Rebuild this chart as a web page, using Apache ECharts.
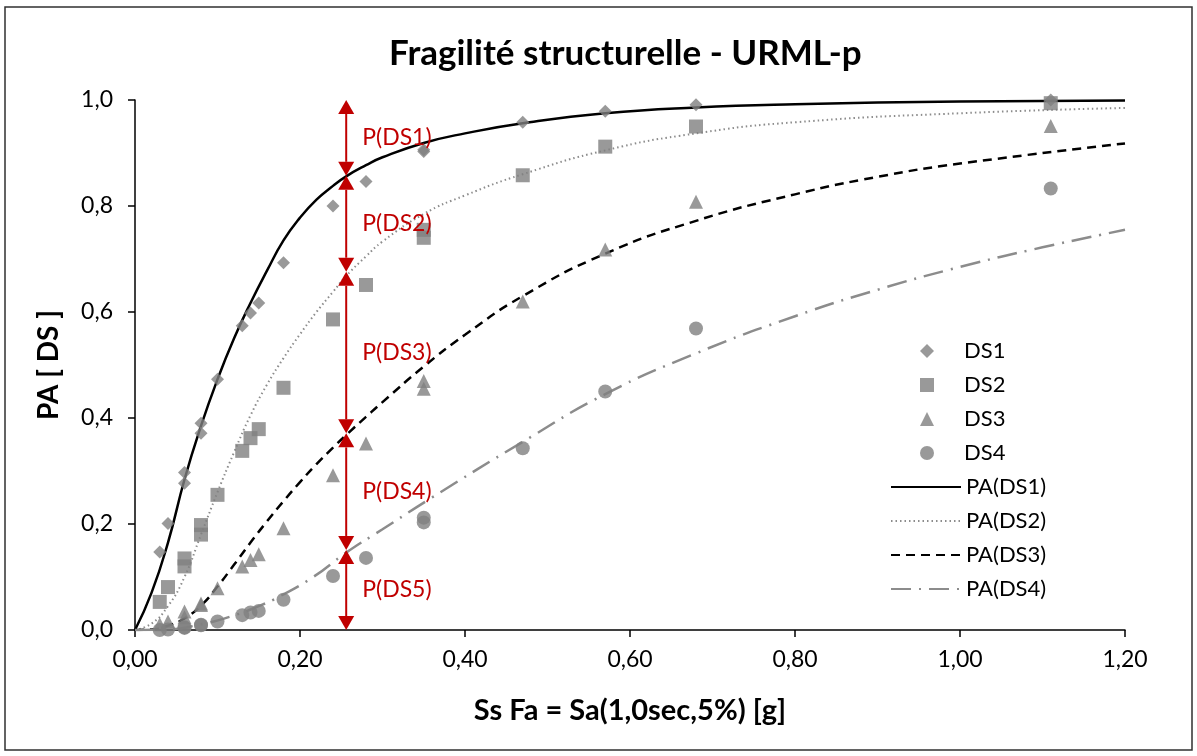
<!DOCTYPE html>
<html>
<head>
<meta charset="utf-8">
<script src="https://cdn.jsdelivr.net/npm/echarts@6/dist/echarts.min.js"></script>
<style>
  html, body { margin: 0; padding: 0; background: #fff; }
  #chart { width: 1197px; height: 756px; }
</style>
</head>
<body>
<div id="chart"></div>
<script>
// Sa values of the samples (some repeated)
const sampleSa = [0.03, 0.04, 0.06, 0.06, 0.08, 0.08, 0.10, 0.13, 0.14, 0.15, 0.18, 0.24, 0.28, 0.35, 0.35, 0.47, 0.57, 0.68, 1.11]

// observed probabilities per damage state
const ds1 = [0.147, 0.201, 0.277, 0.297, 0.371, 0.390, 0.473, 0.574, 0.598, 0.617, 0.693, 0.800, 0.846, 0.903, 0.906, 0.958, 0.979, 0.991, 1.000]
const ds2 = [0.053, 0.081, 0.120, 0.135, 0.180, 0.198, 0.255, 0.338, 0.362, 0.379, 0.457, 0.586, 0.651, 0.740, 0.755, 0.858, 0.912, 0.950, 0.994]
const ds3 = [0.011, 0.016, 0.024, 0.035, 0.047, 0.050, 0.079, 0.120, 0.132, 0.143, 0.192, 0.292, 0.352, 0.455, 0.470, 0.620, 0.718, 0.808, 0.951]
const ds4 = [0.000, 0.001, 0.004, 0.005, 0.009, 0.010, 0.016, 0.028, 0.033, 0.036, 0.057, 0.102, 0.136, 0.203, 0.212, 0.343, 0.450, 0.569, 0.833]

// fitted fragility curves
const pa1 = [[0, 0], [0.02, 0.07], [0.04, 0.165], [0.06, 0.284], [0.08, 0.385], [0.10, 0.473], [0.12, 0.55], [0.14, 0.617], [0.16, 0.678], [0.18, 0.735], [0.20, 0.778], [0.22, 0.812], [0.24, 0.838], [0.256, 0.856], [0.28, 0.877], [0.30, 0.892], [0.35, 0.919], [0.40, 0.937], [0.47, 0.956], [0.57, 0.975], [0.68, 0.986], [0.80, 0.992], [1.0, 0.997], [1.2, 0.999]]
const pa2 = [[0, 0], [0.02, 0.012], [0.04, 0.045], [0.06, 0.1], [0.08, 0.18], [0.10, 0.26], [0.12, 0.335], [0.14, 0.405], [0.16, 0.463], [0.18, 0.513], [0.20, 0.558], [0.22, 0.6], [0.24, 0.638], [0.256, 0.668], [0.28, 0.705], [0.30, 0.733], [0.35, 0.785], [0.40, 0.82], [0.47, 0.86], [0.57, 0.905], [0.68, 0.937], [0.80, 0.958], [1.0, 0.975], [1.2, 0.985]]
const pa3 = [[0, 0], [0.02, 0.001], [0.04, 0.008], [0.06, 0.022], [0.08, 0.046], [0.10, 0.082], [0.12, 0.123], [0.14, 0.165], [0.16, 0.205], [0.18, 0.243], [0.20, 0.279], [0.22, 0.313], [0.24, 0.344], [0.256, 0.368], [0.28, 0.402], [0.30, 0.43], [0.35, 0.497], [0.40, 0.557], [0.47, 0.63], [0.57, 0.71], [0.68, 0.772], [0.80, 0.822], [0.90, 0.855], [1.0, 0.88], [1.2, 0.918]]
const pa4 = [[0, 0], [0.04, 0.001], [0.075, 0.009], [0.115, 0.025], [0.15, 0.045], [0.176, 0.064], [0.216, 0.1], [0.256, 0.146], [0.30, 0.19], [0.36, 0.25], [0.47, 0.355], [0.57, 0.445], [0.68, 0.522], [0.80, 0.592], [0.90, 0.642], [1.0, 0.685], [1.1, 0.722], [1.2, 0.755]]

// damage state bands at Sa = 0.256
const arrowSa = 0.256
const arrowLevels = [1.0, 0.857, 0.676, 0.371, 0.151, 0]
const arrowLabels = ['P(DS1)', 'P(DS2)', 'P(DS3)', 'P(DS4)', 'P(DS5)']

const RED = '#C00000'
const GREY = '#7f7f7f'
const FONT = 'Lato, "Noto Sans", sans-serif'

const pts = ys => sampleSa.map((x, i) => [x, ys[i]])
const comma = (v, d) => v.toFixed(d).replace('.', ',')

const arrowData = arrowLabels.map((t, i) => [arrowSa, arrowLevels[i], arrowLevels[i + 1]])

function renderArrow(params, api) {
  const top = api.coord([api.value(0), api.value(1)])
  const bot = api.coord([api.value(0), api.value(2)])
  const mid = api.coord([api.value(0), (api.value(1) + api.value(2)) / 2])
  const h = 14, w = 8
  return {
    type: 'group',
    children: [
      {type: 'line', shape: {x1: top[0], y1: top[1] + h, x2: bot[0], y2: bot[1] - h},
        style: {stroke: RED, lineWidth: 2}},
      {type: 'polygon', shape: {points: [[top[0], top[1]], [top[0] - w, top[1] + h], [top[0] + w, top[1] + h]]},
        style: {fill: RED}},
      {type: 'polygon', shape: {points: [[bot[0], bot[1]], [bot[0] - w, bot[1] - h], [bot[0] + w, bot[1] - h]]},
        style: {fill: RED}},
      {type: 'text', x: mid[0] + 16, y: mid[1],
        style: {text: arrowLabels[params.dataIndex], fill: RED, font: '23px ' + FONT, verticalAlign: 'middle'}}
    ]
  }
}

const scatter = (name, symbol, size, ys) => ({
  name, type: 'scatter', data: pts(ys), symbol, symbolSize: size,
  itemStyle: {color: GREY}, z: 4
})
const curve = (name, data, color, type, width) => ({
  name, type: 'line', data, symbol: 'none', smooth: 0.5,
  lineStyle: {color, type, width, cap: 'butt'}, itemStyle: {color}, z: 3
})

const legendText = {fontFamily: FONT, fontSize: 22, color: '#000'}

const myChart = echarts.init(document.getElementById('chart'))
myChart.setOption({
  animation: false,
  backgroundColor: '#fff',
  title: {
    text: 'Fragilité structurelle - URML-p',
    left: 384, top: 31,
    textStyle: {fontFamily: FONT, fontSize: 35, fontWeight: 'bold', color: '#000'}
  },
  graphic: [{
    type: 'rect', shape: {x: 5, y: 7, width: 1187, height: 743},
    style: {fill: 'none', stroke: '#303030', lineWidth: 1.5}, silent: true
  }],
  legend: [{
    // marker entries: small symbols, text aligned with the line entries
    orient: 'vertical', left: 915, top: 335,
    itemWidth: 14, itemHeight: 14, itemGap: 12,
    formatter: name => '{p|}' + name,
    textStyle: Object.assign({rich: {p: {width: 25}}}, legendText),
    data: ['DS1', 'DS2', 'DS3', 'DS4']
  }, {
    orient: 'vertical', left: 885, top: 471,
    itemWidth: 70, itemHeight: 14, itemGap: 12,
    itemStyle: {opacity: 0},
    textStyle: legendText,
    data: ['PA(DS1)', 'PA(DS2)', 'PA(DS3)', 'PA(DS4)']
  }],
  grid: {left: 135, right: 72, top: 100, bottom: 126},
  xAxis: {
    type: 'value', min: 0, max: 1.2, interval: 0.2,
    name: 'Ss Fa = Sa(1,0sec,5%) [g]', nameLocation: 'middle', nameGap: 66,
    nameTextStyle: {fontFamily: FONT, fontSize: 29, fontWeight: 'bold', color: '#000'},
    axisLine: {lineStyle: {color: '#000', width: 1.5}},
    axisTick: {show: true, length: 7, lineStyle: {color: '#000', width: 1.5}},
    axisLabel: {fontFamily: FONT, fontSize: 23, color: '#000', margin: 18, formatter: v => comma(v, 2)},
    splitLine: {show: false}
  },
  yAxis: {
    type: 'value', min: 0, max: 1, interval: 0.2,
    name: 'PA [ DS ]', nameLocation: 'middle', nameGap: 72,
    nameTextStyle: {fontFamily: FONT, fontSize: 28, fontWeight: 'bold', color: '#000'},
    axisLine: {show: true, lineStyle: {color: '#000', width: 1.5}},
    axisTick: {show: true, length: 7, lineStyle: {color: '#000', width: 1.5}},
    axisLabel: {fontFamily: FONT, fontSize: 23, color: '#000', margin: 22, formatter: v => comma(v, 1)},
    splitLine: {show: false}
  },
  series: [
    curve('PA(DS1)', pa1, '#000', 'solid', 2.5),
    curve('PA(DS2)', pa2, '#8c8c8c', [1.5, 3], 2),
    curve('PA(DS3)', pa3, '#000', [9, 6], 2.5),
    curve('PA(DS4)', pa4, '#8c8c8c', [20, 8, 2, 8], 2.5),
    scatter('DS1', 'diamond', 13, ds1),
    scatter('DS2', 'rect', 14, ds2),
    scatter('DS3', 'triangle', 14, ds3),
    scatter('DS4', 'circle', 14, ds4),
    {
      type: 'custom', name: 'bands', data: arrowData, renderItem: renderArrow,
      clip: false, z: 6, silent: true
    }
  ]
})
</script>
</body>
</html>
